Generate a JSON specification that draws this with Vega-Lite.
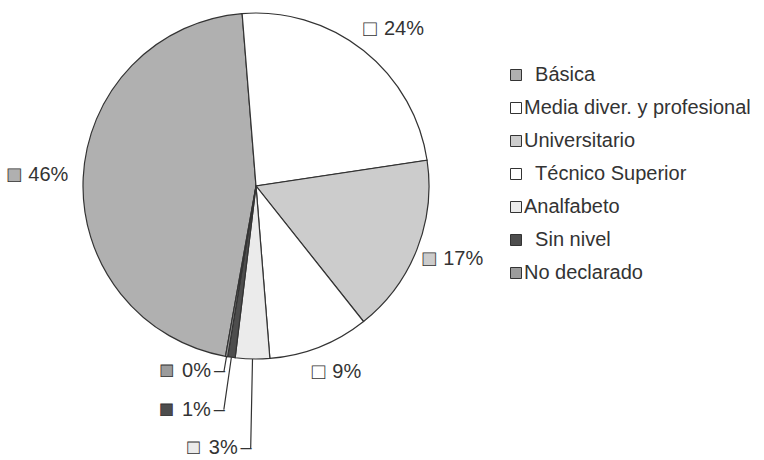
{
  "$schema": "https://vega.github.io/schema/vega-lite/v6.json",
  "width": 512,
  "height": 372,
  "autosize": {"type": "none"},
  "padding": {"left": 0, "top": 0, "right": 252, "bottom": 88},
  "background": "white",
  "view": {"stroke": null},
  "data": {
    "values": [
      {"nivel": "\u200b\u00a0\u00a0Básica", "share": 0.459, "orden": 7},
      {"nivel": "Media diver. y profesional", "share": 0.239, "orden": 1},
      {"nivel": "Universitario", "share": 0.167, "orden": 2},
      {"nivel": "\u200b\u00a0\u00a0Técnico Superior", "share": 0.094, "orden": 3},
      {"nivel": "Analfabeto", "share": 0.032, "orden": 4},
      {"nivel": "\u200b\u00a0\u00a0Sin nivel", "share": 0.007, "orden": 5},
      {"nivel": "No declarado", "share": 0.002, "orden": 6}
    ]
  },
  "encoding": {
    "theta": {"field": "share", "type": "quantitative", "stack": true, "scale": {"domain": [0, 1], "range": [-0.0803, 6.2029]}},
    "order": {"field": "orden", "type": "quantitative"}
  },
  "layer": [
    {
      "mark": {"type": "arc", "outerRadius": 173, "stroke": "#333333", "strokeWidth": 1.2},
      "encoding": {
        "color": {
          "field": "nivel", "type": "nominal",
          "scale": {
            "domain": ["\u200b\u00a0\u00a0Básica", "Media diver. y profesional", "Universitario", "\u200b\u00a0\u00a0Técnico Superior", "Analfabeto", "\u200b\u00a0\u00a0Sin nivel", "No declarado"],
            "range": ["#b0b0b0", "#ffffff", "#cccccc", "#ffffff", "#ebebeb", "#4d4d4d", "#9c9c9c"]
          },
          "legend": {
            "orient": "none", "legendX": 506, "legendY": 65, "title": null, "padding": 0,
            "symbolType": "square", "symbolSize": 121, "symbolStrokeColor": "#333333", "symbolStrokeWidth": 1,
            "labelFont": "Liberation Sans", "labelFontSize": 20, "labelColor": "#333333",
            "labelOffset": -2, "rowPadding": 13, "labelLimit": 300
          }
        }
      }
    },
    {
      "mark": {"type": "arc", "padAngle": 1, "fillOpacity": 0, "stroke": "#333333", "strokeWidth": 1.2, "innerRadius": 173,
               "outerRadius": {"expr": "[201, 198, 200, 262, 226, 188, 231][datum.orden - 1]"}},
      "encoding": {
        "strokeOpacity": {"condition": {"test": "datum.orden >= 4 && datum.orden <= 6", "value": 1}, "value": 0}
      }
    },
    {
      "mark": {"type": "text", "font": "Liberation Sans", "fontSize": 26, "align": "right", "baseline": "middle", "dx": -3, "stroke": "#333333", "strokeWidth": 0.8,
               "radius": {"expr": "[201, 198, 200, 262, 226, 188, 231][datum.orden - 1]"}},
      "encoding": {
        "color": {"field": "nivel", "type": "nominal"},
        "text": {"condition": {"test": "datum.orden < 4 || datum.orden > 6", "value": "■"}, "value": ""}
      }
    },
    {
      "mark": {"type": "text", "font": "Liberation Sans", "fontSize": 20, "align": "left", "baseline": "middle", "dx": 3, "fill": "#333333",
               "radius": {"expr": "[201, 198, 200, 262, 226, 188, 231][datum.orden - 1]"}},
      "encoding": {
        "text": {"condition": {"test": "datum.orden < 4 || datum.orden > 6", "field": "share", "type": "quantitative", "format": ".0%"}, "value": ""}
      }
    },
    {
      "mark": {"type": "text", "font": "Liberation Sans", "fontSize": 24, "align": "right", "baseline": "middle", "dx": -50, "stroke": "#333333", "strokeWidth": 0.8,
               "radius": {"expr": "[201, 198, 200, 262, 226, 188, 231][datum.orden - 1]"}},
      "encoding": {
        "color": {"field": "nivel", "type": "nominal"},
        "text": {"condition": {"test": "datum.orden >= 4 && datum.orden <= 6", "value": "■"}, "value": ""}
      }
    },
    {
      "mark": {"type": "text", "font": "Liberation Sans", "fontSize": 20, "align": "right", "baseline": "middle", "dx": -13, "fill": "#333333",
               "radius": {"expr": "[201, 198, 200, 262, 226, 188, 231][datum.orden - 1]"}},
      "encoding": {
        "text": {"condition": {"test": "datum.orden >= 4 && datum.orden <= 6", "field": "share", "type": "quantitative", "format": ".0%"}, "value": ""}
      }
    },
    {
      "mark": {"type": "text", "font": "Liberation Sans", "fontSize": 20, "align": "right", "baseline": "middle", "dx": 1, "fill": "#333333",
               "radius": {"expr": "[201, 198, 200, 262, 226, 188, 231][datum.orden - 1]"}},
      "encoding": {
        "text": {"condition": {"test": "datum.orden >= 4 && datum.orden <= 6", "value": "–"}, "value": ""}
      }
    }
  ]
}
